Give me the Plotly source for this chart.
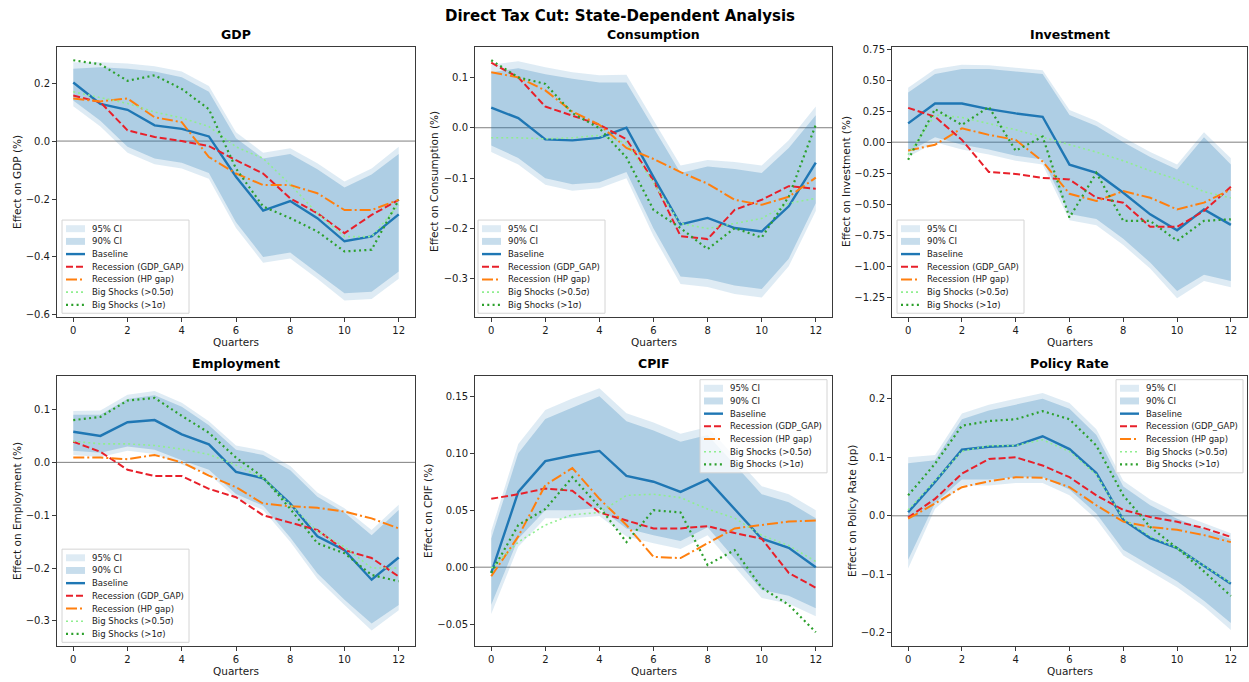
import plotly.graph_objects as go

W, H = 1249, 682

quarters = list(range(13))

# ---- GDP -------------------------------------------------------------------
gdp_base = [0.202, 0.128, 0.108, 0.054, 0.042, 0.016, -0.123, -0.240, -0.207, -0.266, -0.346, -0.329, -0.253]
gdp_rec_gap = [0.157, 0.134, 0.037, 0.014, 0.000, -0.017, -0.066, -0.112, -0.198, -0.249, -0.318, -0.255, -0.203]
gdp_rec_hp = [0.147, 0.137, 0.147, 0.082, 0.065, -0.055, -0.112, -0.152, -0.152, -0.180, -0.238, -0.238, -0.203]
gdp_big05 = [0.170, 0.150, 0.130, 0.100, 0.080, 0.050, -0.020, -0.060, -0.150, -0.250, -0.330, -0.330, -0.220]
gdp_big1 = [0.279, 0.265, 0.208, 0.227, 0.180, 0.110, -0.095, -0.226, -0.266, -0.312, -0.381, -0.375, -0.203]
gdp_hi90 = [0.250, 0.255, 0.250, 0.240, 0.220, 0.170, 0.010, -0.060, -0.045, -0.097, -0.160, -0.115, -0.045]
gdp_lo90 = [0.140, 0.070, -0.020, -0.060, -0.075, -0.110, -0.280, -0.400, -0.385, -0.455, -0.525, -0.520, -0.450]
gdp_hi95 = [0.272, 0.272, 0.268, 0.258, 0.240, 0.190, 0.030, -0.040, -0.025, -0.077, -0.140, -0.095, -0.020]
gdp_lo95 = [0.120, 0.050, -0.040, -0.080, -0.095, -0.130, -0.300, -0.420, -0.405, -0.475, -0.550, -0.545, -0.475]

# ---- Consumption -------------------------------------------------------------
con_base = [0.040, 0.019, -0.023, -0.025, -0.020, 0.000, -0.098, -0.192, -0.179, -0.199, -0.206, -0.156, -0.069]
con_rec_gap = [0.129, 0.100, 0.042, 0.024, 0.006, -0.023, -0.105, -0.215, -0.221, -0.163, -0.143, -0.116, -0.121]
con_rec_hp = [0.110, 0.100, 0.074, 0.032, 0.006, -0.040, -0.062, -0.088, -0.111, -0.143, -0.153, -0.137, -0.099]
con_big05 = [-0.020, -0.020, -0.022, -0.020, -0.015, -0.030, -0.110, -0.190, -0.200, -0.190, -0.180, -0.150, -0.140]
con_big1 = [0.134, 0.100, 0.087, 0.029, -0.001, -0.059, -0.163, -0.199, -0.241, -0.199, -0.218, -0.137, 0.006]
con_hi90 = [0.110, 0.118, 0.106, 0.097, 0.090, 0.090, 0.000, -0.090, -0.077, -0.082, -0.090, -0.040, 0.025]
con_lo90 = [-0.035, -0.060, -0.100, -0.112, -0.108, -0.088, -0.200, -0.295, -0.300, -0.313, -0.320, -0.260, -0.150]
con_hi95 = [0.125, 0.132, 0.120, 0.110, 0.104, 0.105, 0.015, -0.075, -0.064, -0.068, -0.075, -0.025, 0.042]
con_lo95 = [-0.048, -0.073, -0.113, -0.125, -0.120, -0.100, -0.215, -0.310, -0.316, -0.330, -0.337, -0.275, -0.165]

# ---- Investment --------------------------------------------------------------
inv_base = [0.152, 0.312, 0.312, 0.267, 0.232, 0.205, -0.181, -0.248, -0.408, -0.582, -0.710, -0.542, -0.667]
inv_rec_gap = [0.277, 0.205, 0.019, -0.240, -0.256, -0.288, -0.301, -0.448, -0.488, -0.683, -0.683, -0.555, -0.360]
inv_rec_hp = [-0.067, -0.021, 0.112, 0.059, 0.019, -0.155, -0.416, -0.475, -0.395, -0.448, -0.542, -0.488, -0.382]
inv_big05 = [-0.100, 0.220, 0.200, 0.150, 0.100, 0.040, -0.020, -0.080, -0.150, -0.230, -0.300, -0.400, -0.450]
inv_big1 = [-0.141, 0.267, 0.139, 0.285, -0.069, 0.045, -0.608, -0.248, -0.635, -0.635, -0.795, -0.635, -0.622]
inv_hi90 = [0.400, 0.550, 0.590, 0.590, 0.570, 0.550, 0.220, 0.130, 0.000, -0.120, -0.220, 0.040, -0.180]
inv_lo90 = [-0.080, 0.040, -0.020, -0.060, -0.110, -0.140, -0.580, -0.620, -0.780, -0.970, -1.200, -1.070, -1.120]
inv_hi95 = [0.440, 0.590, 0.625, 0.620, 0.600, 0.580, 0.260, 0.170, 0.040, -0.080, -0.180, 0.080, -0.130]
inv_lo95 = [-0.120, 0.000, -0.060, -0.100, -0.150, -0.180, -0.630, -0.670, -0.830, -1.020, -1.260, -1.120, -1.170]

# ---- Employment --------------------------------------------------------------
emp_base = [0.058, 0.050, 0.076, 0.080, 0.053, 0.034, -0.018, -0.030, -0.078, -0.140, -0.166, -0.222, -0.180]
emp_rec_gap = [0.039, 0.020, -0.014, -0.026, -0.026, -0.050, -0.066, -0.100, -0.114, -0.128, -0.166, -0.181, -0.216]
emp_rec_hp = [0.009, 0.009, 0.006, 0.014, 0.000, -0.025, -0.047, -0.078, -0.083, -0.086, -0.093, -0.106, -0.125]
emp_big05 = [0.040, 0.035, 0.035, 0.032, 0.025, 0.015, -0.005, -0.030, -0.080, -0.130, -0.160, -0.200, -0.200]
emp_big1 = [0.080, 0.086, 0.117, 0.122, 0.088, 0.056, 0.009, -0.028, -0.088, -0.153, -0.172, -0.213, -0.225]
emp_hi90 = [0.090, 0.090, 0.120, 0.127, 0.105, 0.070, 0.024, 0.014, -0.015, -0.065, -0.095, -0.138, -0.090]
emp_lo90 = [0.022, 0.018, 0.030, 0.024, 0.004, -0.014, -0.060, -0.082, -0.142, -0.210, -0.260, -0.305, -0.270]
emp_hi95 = [0.097, 0.098, 0.128, 0.135, 0.113, 0.078, 0.032, 0.022, -0.007, -0.057, -0.087, -0.128, -0.080]
emp_lo95 = [0.014, 0.010, 0.022, 0.016, -0.004, -0.022, -0.068, -0.090, -0.150, -0.220, -0.270, -0.318, -0.280]

# ---- CPIF --------------------------------------------------------------------
cpi_base = [-0.005, 0.066, 0.093, 0.098, 0.102, 0.080, 0.075, 0.066, 0.077, 0.051, 0.025, 0.017, 0.000]
cpi_rec_gap = [0.060, 0.064, 0.069, 0.067, 0.048, 0.041, 0.034, 0.034, 0.036, 0.030, 0.025, -0.005, -0.018]
cpi_rec_hp = [-0.008, 0.027, 0.072, 0.087, 0.060, 0.037, 0.009, 0.008, 0.021, 0.034, 0.037, 0.040, 0.041]
cpi_big05 = [-0.001, 0.022, 0.037, 0.046, 0.048, 0.063, 0.064, 0.061, 0.051, 0.043, 0.028, 0.019, 0.005]
cpi_big1 = [-0.005, 0.037, 0.051, 0.079, 0.053, 0.022, 0.050, 0.048, 0.002, 0.015, -0.018, -0.033, -0.057]
cpi_hi90 = [0.025, 0.100, 0.130, 0.140, 0.150, 0.128, 0.120, 0.110, 0.116, 0.090, 0.064, 0.057, 0.043]
cpi_lo90 = [-0.033, 0.025, 0.050, 0.050, 0.052, 0.034, 0.028, 0.023, 0.035, 0.007, -0.020, -0.025, -0.036]
cpi_hi95 = [0.032, 0.108, 0.138, 0.148, 0.157, 0.135, 0.127, 0.117, 0.123, 0.097, 0.071, 0.064, 0.050]
cpi_lo95 = [-0.041, 0.018, 0.043, 0.043, 0.045, 0.027, 0.021, 0.016, 0.028, 0.000, -0.027, -0.032, -0.043]

# ---- Policy Rate -------------------------------------------------------------
pol_base = [0.006, 0.058, 0.113, 0.118, 0.120, 0.136, 0.114, 0.073, -0.007, -0.038, -0.055, -0.086, -0.116]
pol_rec_gap = [-0.003, 0.029, 0.072, 0.097, 0.100, 0.086, 0.066, 0.035, 0.010, -0.002, -0.010, -0.021, -0.036]
pol_rec_hp = [-0.005, 0.021, 0.049, 0.059, 0.066, 0.065, 0.049, 0.018, -0.010, -0.019, -0.024, -0.033, -0.045]
pol_big05 = [0.010, 0.060, 0.110, 0.120, 0.120, 0.130, 0.110, 0.070, -0.005, -0.035, -0.055, -0.085, -0.115]
pol_big1 = [0.035, 0.089, 0.154, 0.162, 0.165, 0.179, 0.165, 0.120, 0.035, -0.019, -0.055, -0.095, -0.137]
pol_hi90 = [0.090, 0.095, 0.165, 0.180, 0.190, 0.200, 0.183, 0.138, 0.050, 0.018, -0.005, -0.022, -0.040]
pol_lo90 = [-0.075, 0.022, 0.062, 0.062, 0.066, 0.066, 0.045, 0.004, -0.058, -0.085, -0.112, -0.145, -0.183]
pol_hi95 = [0.100, 0.104, 0.175, 0.190, 0.200, 0.210, 0.193, 0.148, 0.060, 0.028, 0.005, -0.012, -0.030]
pol_lo95 = [-0.090, 0.012, 0.052, 0.052, 0.056, 0.056, 0.035, -0.006, -0.068, -0.095, -0.122, -0.155, -0.195]

panel_titles = ["GDP", "Consumption", "Investment", "Employment", "CPIF", "Policy Rate"]
y_labels = ["Effect on GDP (%)", "Effect on Consumption (%)", "Effect on Investment (%)",
            "Effect on Employment (%)", "Effect on CPIF (%)", "Effect on Policy Rate (pp)"]
x_tick_vals = [0, 2, 4, 6, 8, 10, 12]

series = [
    (gdp_base, gdp_rec_gap, gdp_rec_hp, gdp_big05, gdp_big1, gdp_lo90, gdp_hi90, gdp_lo95, gdp_hi95),
    (con_base, con_rec_gap, con_rec_hp, con_big05, con_big1, con_lo90, con_hi90, con_lo95, con_hi95),
    (inv_base, inv_rec_gap, inv_rec_hp, inv_big05, inv_big1, inv_lo90, inv_hi90, inv_lo95, inv_hi95),
    (emp_base, emp_rec_gap, emp_rec_hp, emp_big05, emp_big1, emp_lo90, emp_hi90, emp_lo95, emp_hi95),
    (cpi_base, cpi_rec_gap, cpi_rec_hp, cpi_big05, cpi_big1, cpi_lo90, cpi_hi90, cpi_lo95, cpi_hi95),
    (pol_base, pol_rec_gap, pol_rec_hp, pol_big05, pol_big1, pol_lo90, pol_hi90, pol_lo95, pol_hi95),
]

# ---- layout (pixel boxes of each axes: left, top, right, bottom) -------------
boxes = [(57, 44, 415, 317), (475, 44, 832, 317), (892, 44, 1247, 317),
         (57, 376, 415, 649), (475, 376, 832, 649), (892, 376, 1247, 649)]
y_ranges = [(-0.608, 0.326), (-0.376, 0.161), (-1.412, 0.771),
            (-0.348, 0.164), (-0.0694, 0.168), (-0.223, 0.2395)]
y_dticks = [0.2, 0.1, 0.25, 0.1, 0.05, 0.1]
y_formats = [".1f", ".1f", ".2f", ".1f", ".2f", ".1f"]
ylabel_x = [17, 434, 846, 17, 428, 852]
legend_pos = [(62, 219), (478, 219), (897, 219), (62, 551), (700, 380), (1116, 380)]

BLUE = "#1f77b4"
RED = "#e8202a"
ORANGE = "#ff7f0e"
LGREEN = "#90ee90"
GREEN = "#2ca02c"
CI95 = "rgba(31,119,180,0.15)"
CI90 = "rgba(31,119,180,0.25)"
FONT = "DejaVu Sans"
TXT = "#1a1a1a"
FRAME = "#3a3a3a"

line_styles = [
    ("Baseline", BLUE, "solid", 2.4),
    ("Recession (GDP_GAP)", RED, "7px,3px", 2.0),
    ("Recession (HP gap)", ORANGE, "11px,3px,2px,3px", 2.0),
    ("Big Shocks (>0.5σ)", LGREEN, "2px,3px", 1.6),
    ("Big Shocks (>1σ)", GREEN, "2px,3.3px", 2.2),
]


def px_x(x):
    return x / W


def px_y(y):
    return 1 - y / H


fig = go.Figure()

for i, data in enumerate(series):
    n = i + 1
    xa = "x" if n == 1 else f"x{n}"
    ya = "y" if n == 1 else f"y{n}"
    base, rec_gap, rec_hp, big05, big1, lo90, hi90, lo95, hi95 = data

    # confidence bands as closed polygons
    for lo, hi, col in ((lo95, hi95, CI95), (lo90, hi90, CI90)):
        fig.add_trace(go.Scatter(
            x=quarters + quarters[::-1], y=hi + lo[::-1],
            fill="toself", fillcolor=col, mode="lines", line=dict(width=0),
            hoverinfo="skip", showlegend=False, xaxis=xa, yaxis=ya))

    for vals, (name, col, dash, w) in zip((base, rec_gap, rec_hp, big05, big1), line_styles):
        fig.add_trace(go.Scatter(
            x=quarters, y=vals, mode="lines", name=name,
            line=dict(color=col, dash=dash, width=w),
            showlegend=False, xaxis=xa, yaxis=ya))

    L, T, R, B = boxes[i]
    axis_common = dict(showline=True, mirror=True, linecolor=FRAME, linewidth=1,
                       ticks="outside", ticklen=4, tickwidth=1, tickcolor=FRAME,
                       showgrid=False, zeroline=False,
                       tickfont=dict(family=FONT, size=10, color=TXT))
    fig.layout[f"xaxis{'' if n == 1 else n}"] = dict(
        domain=[px_x(L), px_x(R)], anchor=ya, range=[-0.6, 12.6],
        tickvals=x_tick_vals, **axis_common)
    fig.layout[f"yaxis{'' if n == 1 else n}"] = dict(
        domain=[px_y(B), px_y(T)], anchor=xa, range=list(y_ranges[i]),
        dtick=y_dticks[i], tick0=0, tickformat=y_formats[i], **axis_common)

    # horizontal reference line at zero
    fig.add_shape(type="line", xref=f"{xa} domain", yref=ya, x0=0, x1=1, y0=0, y1=0,
                  line=dict(color="rgba(0,0,0,0.5)", width=1), layer="below")

    cx = (L + R) / 2
    fig.add_annotation(x=px_x(cx), y=px_y(T - 12), xref="paper", yref="paper",
                       text=f"<b>{panel_titles[i]}</b>", showarrow=False,
                       font=dict(family=FONT, size=12.5, color="#000"),
                       xanchor="center", yanchor="middle")
    fig.add_annotation(x=px_x(cx), y=px_y(B + 25), xref="paper", yref="paper",
                       text="Quarters", showarrow=False,
                       font=dict(family=FONT, size=10.5, color=TXT),
                       xanchor="center", yanchor="middle")
    fig.add_annotation(x=px_x(ylabel_x[i]), y=px_y((T + B) / 2), xref="paper", yref="paper",
                       text=y_labels[i], showarrow=False, textangle=-90,
                       font=dict(family=FONT, size=10.5, color=TXT),
                       xanchor="center", yanchor="middle")

    # legend box
    lx, ly = legend_pos[i]
    lw, lh, row = 127, 94, 12.8
    fig.add_shape(type="rect", xref="paper", yref="paper",
                  x0=px_x(lx), x1=px_x(lx + lw), y0=px_y(ly + lh), y1=px_y(ly),
                  line=dict(color="#d4d4d4", width=1), fillcolor="rgba(255,255,255,0.8)",
                  layer="above")
    entries = [("95% CI", "fill", CI95, None, None), ("90% CI", "fill", CI90, None, None)]
    entries += [(nm, "line", c, d, w) for nm, c, d, w in line_styles]
    for k, (label, kind, col, dash, w) in enumerate(entries):
        cy = ly + 8.7 + k * row
        if kind == "fill":
            fig.add_shape(type="rect", xref="paper", yref="paper",
                          x0=px_x(lx + 4), x1=px_x(lx + 23), y0=px_y(cy + 3.5), y1=px_y(cy - 3.5),
                          line=dict(width=0), fillcolor=col, layer="above")
        else:
            fig.add_shape(type="line", xref="paper", yref="paper",
                          x0=px_x(lx + 4), x1=px_x(lx + 23), y0=px_y(cy), y1=px_y(cy),
                          line=dict(color=col, dash=dash, width=w), layer="above")
        fig.add_annotation(x=px_x(lx + 28), y=px_y(cy), xref="paper", yref="paper",
                           text=label, showarrow=False,
                           font=dict(family=FONT, size=8.5, color=TXT),
                           xanchor="left", yanchor="middle")

fig.add_annotation(x=px_x(620), y=px_y(13), xref="paper", yref="paper",
                   text="<b>Direct Tax Cut: State-Dependent Analysis</b>", showarrow=False,
                   font=dict(family=FONT, size=15, color="#000"),
                   xanchor="center", yanchor="middle")

fig.update_layout(width=W, height=H, margin=dict(l=0, r=0, t=0, b=0),
                  paper_bgcolor="white", plot_bgcolor="white",
                  font=dict(family=FONT), showlegend=False)

fig.write_html("out.html")
